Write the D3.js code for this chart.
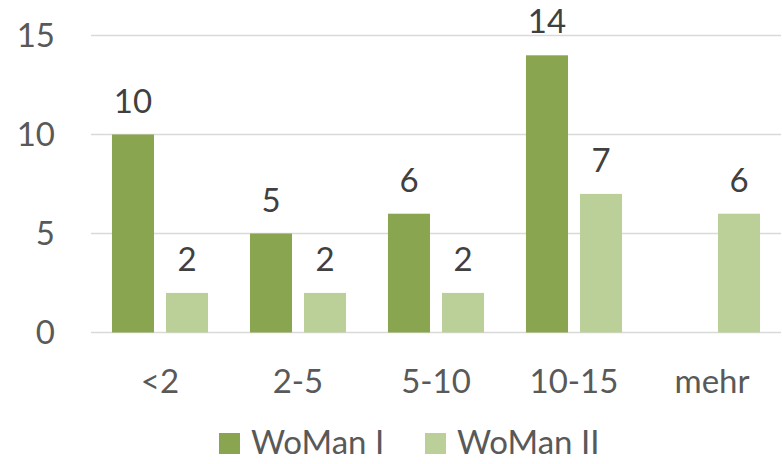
<!DOCTYPE html>
<html>
<head>
<meta charset="utf-8">
<script src="https://cdn.jsdelivr.net/npm/d3@7"></script>
<style>
  html, body { margin: 0; padding: 0; background: #fff; }
  svg text { font-family: Lato, "Open Sans", sans-serif; }
</style>
</head>
<body>
<svg id="chart" width="782" height="464"></svg>
<script>
// Categories (years) and the two series
const categories = ["<2", "2-5", "5-10", "10-15", "mehr"];
const seriesNames = ["WoMan I", "WoMan II"];
const womanI = [10, 5, 6, 14, null];
const womanII = [2, 2, 2, 7, 6];
const yTicks = [0, 5, 10, 15];
const colors = ["#8AA54F", "#BBCF98"];

const svg = d3.select("#chart");
const margin = { left: 91, right: 1, top: 35.5, bottom: 131.5 };
const W = 782, H = 464;

const x = d3.scaleBand()
  .domain(categories)
  .range([margin.left, W - margin.right])
  .paddingInner(0).paddingOuter(0);

const bw = x.bandwidth();
const x1 = d3.scaleBand()
  .domain(seriesNames)
  .range([bw * 0.152, bw * 0.848])
  .paddingInner(0.222).paddingOuter(0);

const y = d3.scaleLinear()
  .domain([0, 15])
  .range([H - margin.bottom, margin.top]);

// Horizontal gridlines (including baseline)
svg.append("g")
  .selectAll("line")
  .data(yTicks)
  .join("line")
  .attr("x1", margin.left)
  .attr("x2", W - margin.right)
  .attr("y1", d => y(d))
  .attr("y2", d => y(d))
  .attr("stroke", "#d9d9d9")
  .attr("stroke-width", 1.5);

// Y tick labels
svg.append("g")
  .selectAll("text")
  .data(yTicks)
  .join("text")
  .attr("x", 55)
  .attr("y", d => y(d))
  .attr("dy", "0.36em")
  .attr("text-anchor", "end")
  .attr("font-size", 33)
  .attr("fill", "#595959")
  .text(d => d);

// Bars
const rows = categories.map((c, i) => ({
  cat: c,
  vals: [womanI[i], womanII[i]]
}));

const groups = svg.append("g")
  .selectAll("g")
  .data(rows)
  .join("g")
  .attr("transform", d => `translate(${x(d.cat)},0)`);

const cells = groups.selectAll("g")
  .data(d => d.vals.map((v, j) => ({ v, name: seriesNames[j], j })).filter(e => e.v != null))
  .join("g");

cells.append("rect")
  .attr("x", d => x1(d.name))
  .attr("width", x1.bandwidth())
  .attr("y", d => y(d.v))
  .attr("height", d => y(0) - y(d.v))
  .attr("fill", d => colors[d.j]);

// Value labels
cells.append("text")
  .attr("x", d => x1(d.name) + x1.bandwidth() / 2)
  .attr("y", d => y(d.v) - 22)
  .attr("text-anchor", "middle")
  .attr("font-size", 33)
  .attr("fill", "#404040")
  .text(d => d.v);

// X category labels
svg.append("g")
  .selectAll("text")
  .data(categories)
  .join("text")
  .attr("x", d => x(d) + bw / 2)
  .attr("y", 393)
  .attr("text-anchor", "middle")
  .attr("font-size", 33)
  .attr("fill", "#595959")
  .text(d => d);

// Legend
const legendX = [219, 425];
const legend = svg.append("g")
  .selectAll("g")
  .data(seriesNames)
  .join("g")
  .attr("transform", (d, i) => `translate(${legendX[i]},433)`);

legend.append("rect")
  .attr("width", 21)
  .attr("height", 21)
  .attr("fill", (d, i) => colors[i]);

legend.append("text")
  .attr("x", 32)
  .attr("y", 21)
  .attr("font-size", 33)
  .attr("fill", "#595959")
  .text(d => d);
</script>
</body>
</html>
